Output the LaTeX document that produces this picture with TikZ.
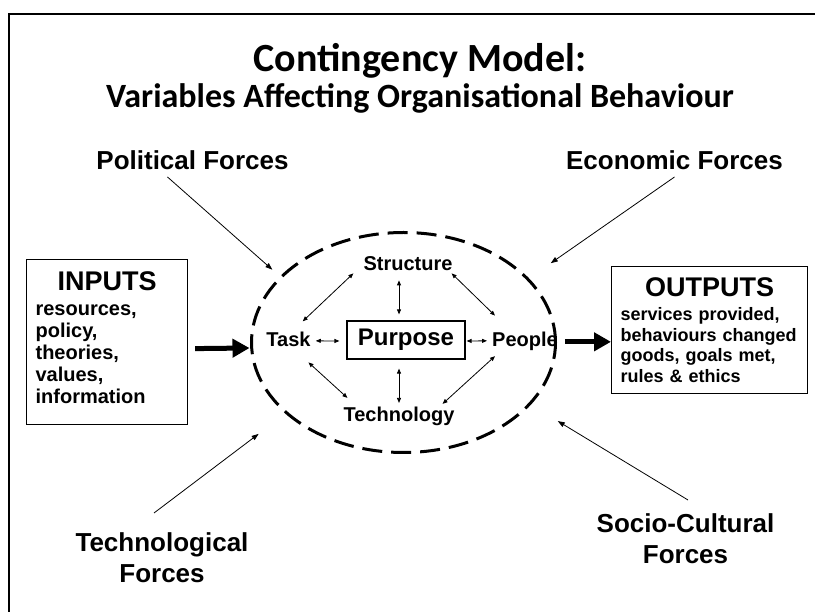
\documentclass[tikz,border=0pt]{standalone}
\usepackage{fontspec}
\setmainfont{Liberation Sans}
\newfontfamily\headfont{Carlito}
\usetikzlibrary{arrows.meta,shapes.geometric}

\begin{document}
\begin{tikzpicture}[x=1pt,y=1pt,
    force/.style={font=\bfseries\fontsize{26}{31.5}\selectfont, align=center, inner sep=0pt},
    var/.style={font=\bfseries\fontsize{20}{22}\selectfont, inner sep=2pt},
    ioBox/.style={draw, line width=1.2pt, align=left, inner xsep=9pt, anchor=north west},
    link/.style={{Triangle[length=5pt,width=4pt]}-{Triangle[length=5pt,width=4pt]}, line width=0.8pt},
    push/.style={-{Triangle[length=7pt,width=5pt]}, line width=0.8pt},
    bigarrow/.style={-{Triangle[length=17pt,width=18pt]}, line width=5pt}]
  \useasboundingbox (0,0) rectangle (815,-612);
  \draw[line width=2pt] (815,-14) -- (8.5,-14) -- (8.5,-612);

  \node[font=\headfont\bfseries\fontsize{40}{40}\selectfont, anchor=base] (title) at (420,-72) {Contingency Model:};
  \node[font=\headfont\bfseries\fontsize{34}{34}\selectfont, anchor=base] (subtitle) at (420,-108) {Variables Affecting Organisational Behaviour};

  \node[force, anchor=base] (political) at (192.5,-170) {Political Forces};
  \node[force, anchor=base] (economic) at (674.5,-170) {Economic Forces};
  \node[force, anchor=north] (technological) at (162,-532) {Technological\\Forces};
  \node[force, anchor=north] (sociocultural) at (685.5,-513) {Socio-Cultural\\Forces};

  \node[draw, ellipse, dash pattern=on 20pt off 9pt, line width=3pt, minimum width=304pt, minimum height=220pt, inner sep=0pt, outer sep=0pt] (ring) at (403.5,-342.5) {};

  \node[ioBox, text width=143pt, minimum height=165pt, font=\bfseries\fontsize{20}{22}\selectfont] (inputs) at (26,-259)
    {\hfill{\fontsize{27}{22}\selectfont INPUTS}\hfill\mbox{}\\[3pt] resources,\\ policy,\\ theories,\\ values,\\ information\rule[-9pt]{0pt}{9pt}};
  \node[ioBox, text width=178pt, minimum height=127pt, font=\bfseries\fontsize{18}{20.5}\selectfont] (outputs) at (611,-266)
    {\hfill{\fontsize{27}{20}\selectfont OUTPUTS}\hfill\mbox{}\\[3.5pt] services provided,\\ behaviours changed\\ goods, goals met,\\ rules \& ethics};

  \node[var, anchor=base] (structure) at (408,-271) {Structure};
  \node[var, anchor=base] (task) at (288.5,-347) {Task};
  \node[var, anchor=base] (people) at (525,-347) {People};
  \node[var, anchor=base] (technology) at (399,-422) {Technology};
  \node[draw, line width=1.2pt, minimum width=118pt, minimum height=38pt, font=\bfseries\fontsize{24}{24}\selectfont] (purpose) at (406,-340) {Purpose};

  \draw[link] ([shift={(-10pt,9pt)}]task.north east) -- ([shift={(-8pt,0pt)}]structure.south west);
  \draw[link] ([shift={(-3pt,0pt)}]structure.south east) -- ([shift={(5pt,14.7pt)}]people.north west);
  \draw[link] ([shift={(-9pt,-7pt)}]structure.south) -- ([shift={(-7pt,6pt)}]purpose.north);
  \draw[link] ([shift={(-7pt,-9pt)}]purpose.south) -- ([shift={(0pt,2.4pt)}]technology.north);
  \draw[link] ([shift={(3pt,-1pt)}]task.east) -- ([shift={(-7pt,-1pt)}]purpose.west);
  \draw[link] ([shift={(1pt,-1pt)}]purpose.east) -- ([shift={(-3pt,1pt)}]people.west);
  \draw[link] ([shift={(-4.3pt,-13pt)}]task.south east) -- ([shift={(6pt,7.4pt)}]technology.north west);
  \draw[link] ([shift={(5pt,-2.8pt)}]people.south west) -- ([shift={(-14pt,1.4pt)}]technology.north east);

  \draw[push, shorten >=11.6pt] ([shift={(-25pt,-7pt)}]political.base) -- (ring.152);
  \draw[push, shorten >=28pt] ([yshift=-7pt]economic.base) -- (ring.27);
  \draw[push, shorten >=35pt] ([shift={(-8pt,19pt)}]technological.north) -- (ring.211.4);
  \draw[push, shorten >=33pt] ([shift={(2.5pt,13pt)}]sociocultural.north) -- (ring.334.2);

  \draw[bigarrow] ([shift={(7pt,-6.5pt)}]inputs.east) -- ([shift={(-2pt,-5.5pt)}]ring.west);
  \draw[bigarrow] ([xshift=5pt]people.east) -- (outputs.west |- people.east);
\end{tikzpicture}
\end{document}
